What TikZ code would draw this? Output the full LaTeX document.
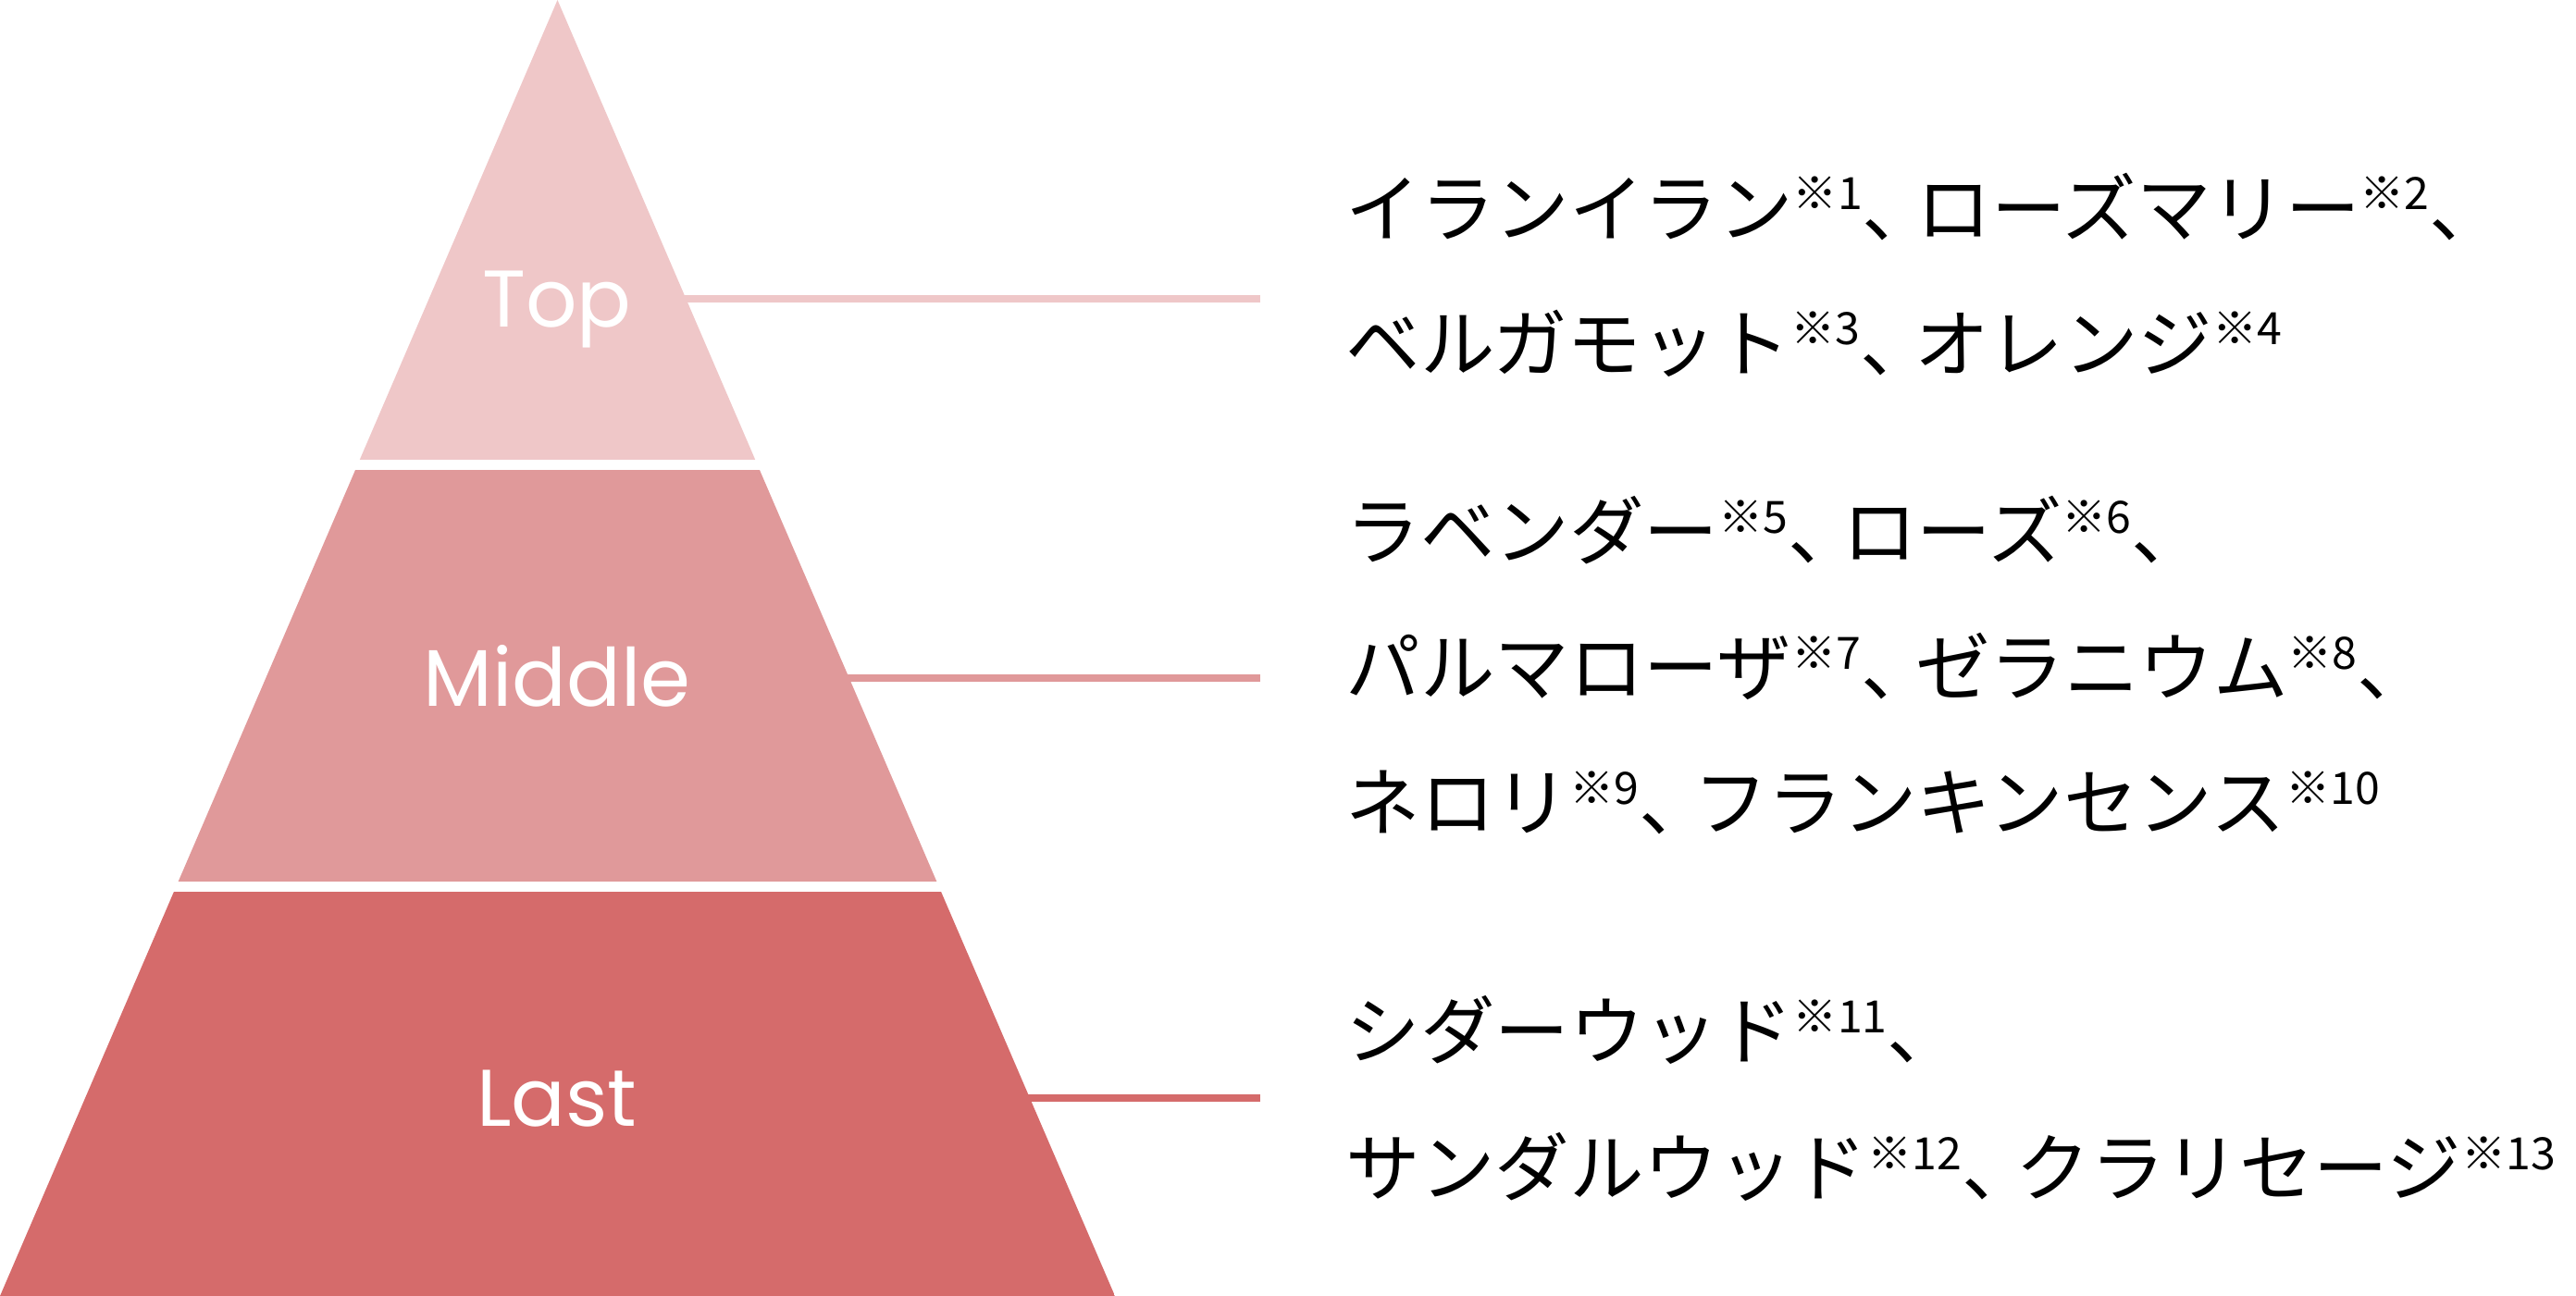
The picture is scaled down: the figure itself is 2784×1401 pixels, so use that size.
\documentclass[tikz,border=0pt]{standalone}
\usepackage{fontspec}
\newfontfamily\jpfont{Noto Sans CJK JP}
\newfontfamily\tierfont{Poppins}
\definecolor{toppink}{HTML}{EFC7C8}
\definecolor{midpink}{HTML}{E0999A}
\definecolor{lastpink}{HTML}{D56B6B}
\newcommand{\kome}[1]{\raisebox{0.36em}{\fontsize{13.7pt}{13.7pt}\selectfont ※#1}}
\newcommand{\ten}{、\kern-0.27em}
\tikzset{
  tier/.style={text=white, font=\tierfont\fontsize{24.7pt}{24.7pt}\selectfont, inner sep=0pt, text height=0.61cm, text depth=0pt},
  note/.style={anchor=base west, inner sep=0pt, font=\jpfont\fontsize{22.9pt}{22.9pt}\selectfont},
  leader/.style={line width=0.08cm}
}
\begin{document}
\begin{tikzpicture}[x=0.01cm,y=-0.01cm]
	\useasboundingbox (0,0) rectangle (2784,1401);
	
	% pyramid, cut into three bands
	\begin{scope}
		\clip (602.5,0) -- (1205,1401) -- (0,1401) -- cycle;
		\fill[toppink] (0,0) rectangle (1205,497);
		\fill[midpink] (0,508) rectangle (1205,953);
		\fill[lastpink] (0,964) rectangle (1205,1401);
	\end{scope}
	
	\node[tier] (toplabel) at (602,323) {Top};
	\node[tier] (midlabel) at (602,733) {Middle};
	\node[tier] (lastlabel) at (602,1187) {Last};
	
	\coordinate (topend) at (1362,323);
	\coordinate (midend) at (1362,733);
	\coordinate (lastend) at (1362,1187);
	\draw[leader,toppink] (toplabel.east) -- (topend);
	\draw[leader,midpink] (midlabel.east) -- (midend);
	\draw[leader,lastpink] (lastlabel.east) -- (lastend);
	
	% notes
	\node[note] (topA) at (1454,256) {イランイラン\kome{1}\ten ローズマリー\kome{2}\ten};
	\node[note] (topB) at (1454,402) {ベルガモット\kome{3}\ten オレンジ\kome{4}};
	\node[note] (midA) at (1454,605) {ラベンダー\kome{5}\ten ローズ\kome{6}\ten};
	\node[note] (midB) at (1454,752) {パルマローザ\kome{7}\ten ゼラニウム\kome{8}\ten};
	\node[note] (midC) at (1454,898) {ネロリ\kome{9}\ten フランキンセンス\kome{10}};
	\node[note] (lastA) at (1454,1145) {シダーウッド\kome{11}\ten};
	\node[note] (lastB) at (1454,1293) {サンダルウッド\kome{12}\ten クラリセージ\kome{13}};
\end{tikzpicture}
\end{document}
